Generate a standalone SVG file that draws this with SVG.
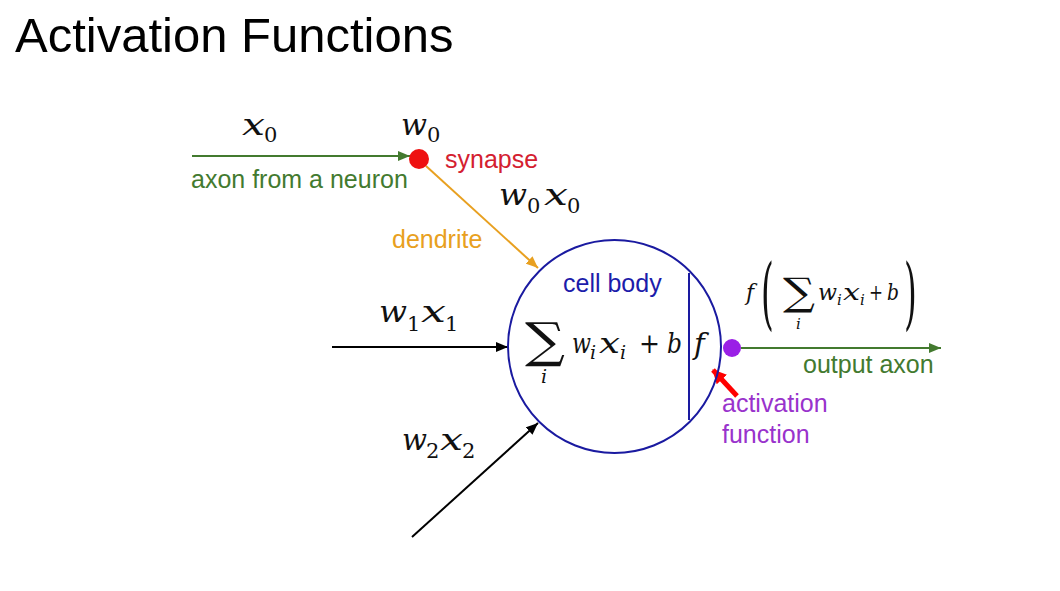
<svg xmlns="http://www.w3.org/2000/svg" width="1060" height="591" viewBox="0 0 1060 591">
<style>
.title{font-family:"Liberation Sans",Arial,sans-serif;font-size:49px;fill:#000}
.lbl{font-family:"Liberation Sans",Arial,sans-serif;font-size:25px}
.m{font-family:"DejaVu Serif","Liberation Serif",serif;font-style:italic;font-size:29px;fill:#111}
.mi{font-size:27px}
.mf{font-size:22px}
.sub{font-family:"DejaVu Serif","Liberation Serif",serif;font-size:21px;fill:#111}
.si{font-family:"DejaVu Serif","Liberation Serif",serif;font-style:italic;font-size:19px;fill:#111}
.sf{font-size:15px}
.up{font-style:normal}
.big{font-family:"DejaVu Serif","Liberation Serif",serif;fill:#111}
</style>
<defs>
<marker id="ag" viewBox="0 0 12 10" refX="12" refY="5" markerWidth="12" markerHeight="10" markerUnits="userSpaceOnUse" orient="auto"><path d="M0,0 L12,5 L0,10 z" fill="#437a2f"/></marker>
<marker id="ab" viewBox="0 0 12 10" refX="12" refY="5" markerWidth="12" markerHeight="10" markerUnits="userSpaceOnUse" orient="auto"><path d="M0,0 L12,5 L0,10 z" fill="#000"/></marker>
<marker id="ao" viewBox="0 0 12 10" refX="12" refY="5" markerWidth="12" markerHeight="10" markerUnits="userSpaceOnUse" orient="auto"><path d="M0,0 L12,5 L0,10 z" fill="#e8a020"/></marker>
<marker id="ar" viewBox="0 0 14 14" refX="13" refY="7" markerWidth="14" markerHeight="14" markerUnits="userSpaceOnUse" orient="auto"><path d="M0,0 L14,7 L0,14 z" fill="#ff0000"/></marker>
</defs>
<rect width="1060" height="591" fill="#fff"/>
<text class="title" x="15" y="52">Activation Functions</text>

<g id="connectors" fill="none">
<line x1="192" y1="156" x2="410" y2="156" stroke="#437a2f" stroke-width="2" marker-end="url(#ag)"/>
<line x1="426" y1="166" x2="538" y2="268" stroke="#e8a020" stroke-width="2" marker-end="url(#ao)"/>
<line x1="332" y1="347" x2="508" y2="347" stroke="#000" stroke-width="2" marker-end="url(#ab)"/>
<line x1="412" y1="537" x2="538" y2="423" stroke="#000" stroke-width="2" marker-end="url(#ab)"/>
<line x1="741" y1="348" x2="941" y2="348" stroke="#437a2f" stroke-width="2" marker-end="url(#ag)"/>
<line x1="737" y1="396" x2="713" y2="370" stroke="#ff0000" stroke-width="5" marker-end="url(#ar)"/>
</g>

<g id="input0">
<text class="m" x="242" y="135" textLength="23" lengthAdjust="spacingAndGlyphs">x</text>
<text class="sub" x="264" y="142">0</text>
<text class="lbl" x="191" y="188" fill="#437a2f">axon from a neuron</text>
</g>

<g id="synapse">
<circle cx="419" cy="159" r="10" fill="#ee1111"/>
<text class="m" x="401" y="135" textLength="26" lengthAdjust="spacingAndGlyphs">w</text>
<text class="sub" x="427" y="142">0</text>
<text class="lbl" x="445" y="168" fill="#d42030">synapse</text>
</g>

<g id="dendrite">
<text class="m" x="499" y="205" textLength="28" lengthAdjust="spacingAndGlyphs">w</text>
<text class="sub" x="527" y="213">0</text>
<text class="m" x="544" y="205" textLength="24" lengthAdjust="spacingAndGlyphs">x</text>
<text class="sub" x="567" y="213">0</text>
<text class="lbl" x="392" y="248" fill="#e8a020">dendrite</text>
</g>

<g id="input1">
<text class="m" x="379" y="322" textLength="28" lengthAdjust="spacingAndGlyphs">w</text>
<text class="sub" x="407" y="331">1</text>
<text class="m" x="421" y="322" textLength="25" lengthAdjust="spacingAndGlyphs">x</text>
<text class="sub" x="445" y="331">1</text>
</g>

<g id="input2">
<text class="m" x="402" y="450" textLength="25" lengthAdjust="spacingAndGlyphs">w</text>
<text class="sub" x="426" y="458">2</text>
<text class="m" x="440" y="450" textLength="23" lengthAdjust="spacingAndGlyphs">x</text>
<text class="sub" x="462" y="458">2</text>
</g>

<g id="cell-body">
<circle cx="614.5" cy="346.5" r="106.5" fill="none" stroke="#1a1aa0" stroke-width="2"/>
<line x1="689" y1="273" x2="689" y2="420" stroke="#1a1aa0" stroke-width="2"/>
<text class="lbl" x="563" y="292" fill="#1c1caa">cell body</text>
<text class="big" x="525" y="357" font-size="48" textLength="40" lengthAdjust="spacingAndGlyphs">∑</text>
<text class="si" x="541" y="383">i</text>
<text class="m mi" x="572" y="353" textLength="19" lengthAdjust="spacingAndGlyphs">w</text>
<text class="si" x="590" y="359">i</text>
<text class="m mi" x="599" y="353" textLength="21" lengthAdjust="spacingAndGlyphs">x</text>
<text class="si" x="620" y="359">i</text>
<text class="m mi up" x="639" y="353" textLength="21" lengthAdjust="spacingAndGlyphs">+</text>
<text class="m mi" x="667" y="353" textLength="15" lengthAdjust="spacingAndGlyphs">b</text>
<text class="m" x="694" y="354" font-size="32">f</text>
</g>

<g id="output">
<circle cx="732" cy="348" r="9" fill="#9a1fe6"/>
<text class="lbl" x="803" y="373" fill="#437a2f">output axon</text>
<text class="m mf" x="746" y="300">f</text>
<text class="big" transform="translate(761,320) scale(0.42,1)" font-size="78">(</text>
<text class="big" x="783" y="305" font-size="38" textLength="32" lengthAdjust="spacingAndGlyphs">∑</text>
<text class="si sf" x="796" y="329">i</text>
<text class="m mf" x="818" y="300" textLength="19" lengthAdjust="spacingAndGlyphs">w</text>
<text class="si sf" x="837" y="305">i</text>
<text class="m mf" x="843" y="300" textLength="17" lengthAdjust="spacingAndGlyphs">x</text>
<text class="si sf" x="860" y="305">i</text>
<text class="m mf up" x="869" y="300" textLength="14" lengthAdjust="spacingAndGlyphs">+</text>
<text class="m mf" x="887" y="300" textLength="12" lengthAdjust="spacingAndGlyphs">b</text>
<text class="big" transform="translate(904,320) scale(0.42,1)" font-size="78">)</text>
</g>

<g id="activation">
<text class="lbl" x="722" y="412" fill="#9933cc">activation</text>
<text class="lbl" x="722" y="443" fill="#9933cc">function</text>
</g>
</svg>
